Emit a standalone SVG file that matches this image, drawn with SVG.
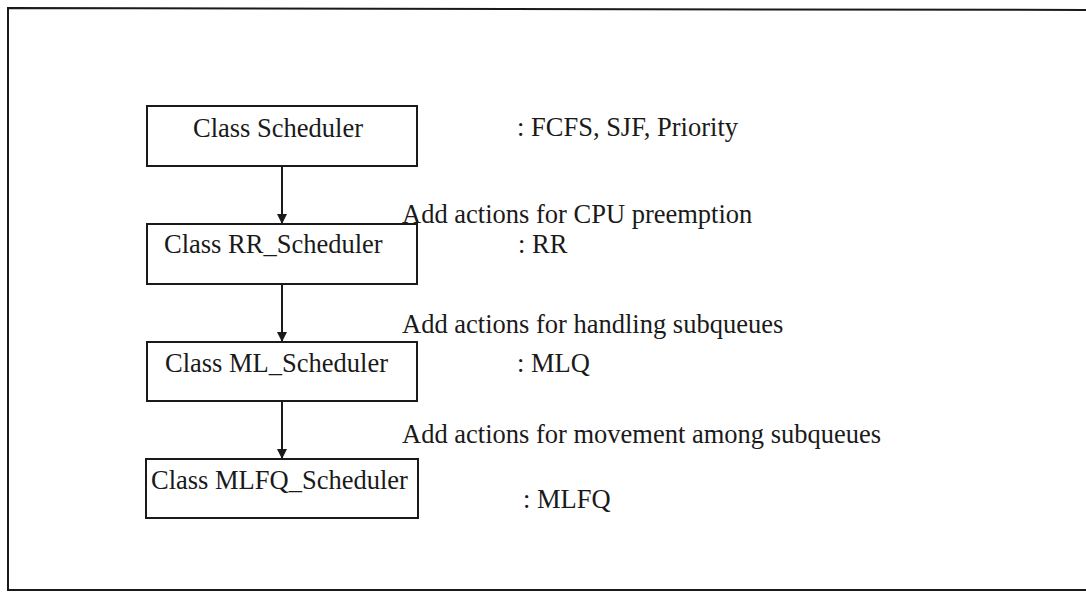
<svg xmlns="http://www.w3.org/2000/svg" width="1086" height="592" viewBox="0 0 1086 592">
  <style>
    .frame { fill: none; stroke: #1a1a1a; stroke-width: 2; }
    .box { fill: #ffffff; stroke: #1a1a1a; stroke-width: 2; }
    .label { font-family: "Liberation Serif", "Times New Roman", serif; font-size: 26.5px; fill: #1a1a1a; }
    .link { stroke: #1a1a1a; stroke-width: 2; fill: none; }
  </style>
  <defs>
    <marker id="arrow" viewBox="0 0 10 10" refX="10" refY="5" markerWidth="5" markerHeight="6" markerUnits="strokeWidth" orient="auto">
      <path d="M0,0 L10,5 L0,10 Z" fill="#1a1a1a"/>
    </marker>
  </defs>

  <rect width="1086" height="592" fill="#ffffff"/>

  <!-- outer frame: top, left and bottom edges -->
  <path class="frame" d="M1086,10 L8,8 L8,590 L1086,590"/>

  <g id="connectors">
    <line class="link" x1="282" y1="166" x2="282" y2="224" marker-end="url(#arrow)"/>
    <line class="link" x1="282" y1="284" x2="282" y2="342" marker-end="url(#arrow)"/>
    <line class="link" x1="282" y1="401" x2="282" y2="459" marker-end="url(#arrow)"/>
  </g>

  <g id="node-scheduler">
    <rect class="box" x="147" y="106" width="270" height="60"/>
    <text class="label" x="193" y="137">Class Scheduler</text>
  </g>

  <g id="node-rr-scheduler">
    <rect class="box" x="147" y="224" width="270" height="60"/>
    <text class="label" x="164" y="253">Class RR_Scheduler</text>
  </g>

  <g id="node-ml-scheduler">
    <rect class="box" x="147" y="342" width="270" height="59"/>
    <text class="label" x="165" y="372">Class ML_Scheduler</text>
  </g>

  <g id="node-mlfq-scheduler">
    <rect class="box" x="146" y="459" width="272" height="59"/>
    <text class="label" x="151" y="489">Class MLFQ_Scheduler</text>
  </g>

  <g id="annotations">
    <text class="label" x="517" y="136">: FCFS, SJF, Priority</text>
    <text class="label" x="402" y="223">Add actions for CPU preemption</text>
    <text class="label" x="518" y="253">: RR</text>
    <text class="label" x="402" y="333">Add actions for handling subqueues</text>
    <text class="label" x="517" y="372">: MLQ</text>
    <text class="label" x="402" y="443">Add actions for movement among subqueues</text>
    <text class="label" x="523" y="508">: MLFQ</text>
  </g>
</svg>
